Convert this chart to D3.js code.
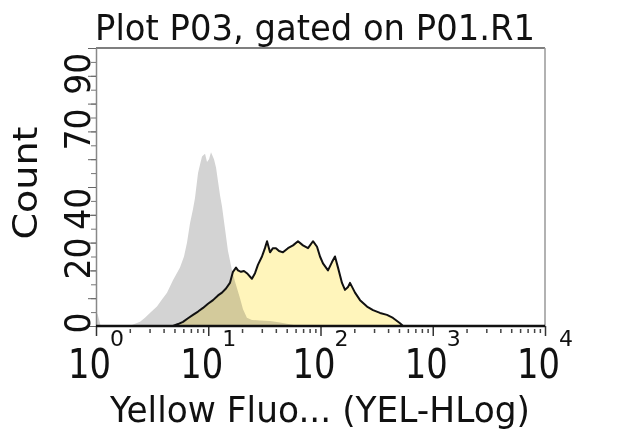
<!DOCTYPE html>
<html>
<head>
<meta charset="utf-8">
<script src="https://cdn.jsdelivr.net/npm/d3@7"></script>
<style>
  body { margin: 0; background: #fff; }
  text { font-family: "DejaVu Sans", Verdana, sans-serif; fill: #111; }
</style>
</head>
<body>
<div id="chart-area"></div>
<script>
/*
*    Flow cytometry histogram overlay (gray control vs yellow sample)
*/

const TITLE = "Plot P03, gated on P01.R1"
const X_LABEL = "Yellow Fluo... (YEL-HLog)"
const Y_LABEL = "Count"

const xDecades = [1, 10, 100, 1000, 10000]
const xExponents = ["0", "1", "2", "3", "4"]
const yTickLabels = [0, 20, 40, 70, 90]

// control histogram (gray)
const grayX = [1.0, 1.03, 1.07, 1.1, 2.0, 2.14, 2.47, 2.73, 3.09, 3.49, 3.87, 4.29, 4.85, 5.6,
  6.08, 6.47, 6.88, 7.31, 7.62, 8.11, 8.44, 8.8, 9.36, 9.75, 10.16, 10.58, 11.25, 11.73,
  12.22, 12.73, 13.26, 14.1, 14.99, 16.28, 17.3, 19.18, 20.4, 22.1, 24.5, 28.9, 35.5,
  43.6, 50.3, 59.3, 65.7]
const grayCount = [4, 4.5, 2, 0, 0, 0.5, 1.5, 3, 5, 7, 9.5, 12, 16.5, 21,
  25, 30, 37, 42, 46, 55, 58, 61, 62, 59, 60, 62.5, 60, 57,
  52, 47, 43, 35, 27, 20, 16, 10, 6, 3, 2.2, 2, 1.8,
  1.3, 0.8, 0.3, 0]

// sample histogram (yellow, outlined)
const yellowX = [4.85, 5.38, 5.96, 6.6, 7.31, 8.11, 8.98, 9.95, 11.03, 12.22,
  13.26, 14.39, 15.6, 16.6, 17.67, 18.4, 19.58, 20.8, 22.1, 24.5,
  26.1, 27.7, 30.1, 32.0, 33.4, 35.5, 37.7, 40.1, 42.7, 46.3,
  51.3, 56.9, 63.0, 69.8, 77.4, 85.7, 93.1, 99.0, 105.2, 116.6,
  126.6, 134.6, 143.2, 155.4, 165.3, 175.8, 183.2, 203, 225, 259.6,
  293.6, 339, 391, 442.5, 511, 543]
const yellowCount = [0, 0.7, 1.5, 2.8, 4, 5.2, 6.5, 8, 9.3, 11,
  12, 13.5, 15.5, 19.5, 21, 20, 19.5, 19.8, 19, 17,
  19, 22, 25, 28, 30.5, 26.5, 28, 28, 27, 26.5,
  28, 29, 30.5, 29, 28, 30.5, 28.5, 25, 22.5, 20,
  23, 25, 21, 15.5, 13, 14, 15.5, 12, 9.3, 7,
  5.7, 4.7, 4, 2.9, 1, 0]

const WIDTH = 640
const HEIGHT = 432
const PLOT = { LEFT: 96, RIGHT: 545, TOP: 48, BOTTOM: 326 }
// small vertical nudges the original software applies to y labels
const yLabelShift = [-3, -12, -6, -2, -2]

const svg = d3.select("#chart-area").append("svg")
  .attr("width", WIDTH)
  .attr("height", HEIGHT)

const x = d3.scaleLog()
  .domain([1, 10000])
  .range([PLOT.LEFT, PLOT.RIGHT])

const y = d3.scaleLinear()
  .domain([0, 100])
  .range([PLOT.BOTTOM, PLOT.TOP])

const gray = d3.zip(grayX, grayCount)
const yellow = d3.zip(yellowX, yellowCount)

const area = d3.area()
  .x(d => x(d[0]))
  .y0(y(0))
  .y1(d => y(d[1]))

const line = d3.line()
  .x(d => x(d[0]))
  .y(d => y(d[1]))

// histograms
svg.append("path")
  .attr("d", area(gray))
  .attr("fill", "#d3d3d3")

svg.append("path")
  .attr("d", area(yellow))
  .attr("fill", "#fff5bb")
  .style("mix-blend-mode", "multiply")

svg.append("path")
  .attr("d", line(yellow))
  .attr("fill", "none")
  .attr("stroke", "#111")
  .attr("stroke-width", 2)
  .attr("stroke-linejoin", "round")

// frame: top and right
svg.append("line")
  .attr("x1", PLOT.LEFT).attr("x2", PLOT.RIGHT)
  .attr("y1", PLOT.TOP).attr("y2", PLOT.TOP)
  .attr("stroke", "#555").attr("stroke-width", 1.5)
svg.append("line")
  .attr("x1", PLOT.RIGHT).attr("x2", PLOT.RIGHT)
  .attr("y1", PLOT.TOP).attr("y2", PLOT.BOTTOM)
  .attr("stroke", "#999").attr("stroke-width", 1.5)

// Y axis
const yMinor = svg.append("g")
  .attr("transform", `translate(${PLOT.LEFT}, 0)`)
  .call(d3.axisLeft(y).tickValues(d3.range(0, 101, 5)).tickSize(5).tickSizeOuter(0).tickFormat(""))
yMinor.select(".domain").attr("stroke", "#888").attr("stroke-width", 1.5)
yMinor.selectAll(".tick line").attr("stroke", "#777")

const yMajor = svg.append("g")
  .attr("transform", `translate(${PLOT.LEFT}, 0)`)
  .call(d3.axisLeft(y).tickValues(d3.range(0, 101, 10)).tickSize(8).tickSizeOuter(0).tickFormat(""))
yMajor.select(".domain").remove()
yMajor.selectAll(".tick line").attr("stroke", "#666")

svg.selectAll(".ylab")
  .data(yTickLabels)
  .enter().append("text")
  .attr("class", "ylab")
  .attr("transform", (d, i) => `translate(90, ${y(d) + yLabelShift[i]}) rotate(-90)`)
  .attr("text-anchor", "middle")
  .attr("font-size", "36px")
  .attr("textLength", d => String(d).length * 21)
  .attr("lengthAdjust", "spacingAndGlyphs")
  .text(d => d)

// X axis
const minorVals = []
xDecades.slice(0, -1).forEach(dec => {
  for (let k = 2; k <= 9; k++) minorVals.push(dec * k)
})

const xMinor = svg.append("g")
  .attr("transform", `translate(0, ${PLOT.BOTTOM + 3})`)
  .call(d3.axisBottom(x).tickValues(minorVals).tickSize(4).tickSizeOuter(0).tickFormat(""))
xMinor.select(".domain").remove()
xMinor.selectAll(".tick line").attr("stroke", "#444").attr("stroke-width", 1.5)

const xMajor = svg.append("g")
  .attr("transform", `translate(0, ${PLOT.BOTTOM})`)
  .call(d3.axisBottom(x).tickValues(xDecades).tickSize(10).tickSizeOuter(0).tickFormat(""))
xMajor.select(".domain").remove()
xMajor.selectAll(".tick line").attr("stroke", "#333").attr("stroke-width", 1.5)

svg.append("line")
  .attr("x1", PLOT.LEFT).attr("x2", PLOT.RIGHT)
  .attr("y1", PLOT.BOTTOM).attr("y2", PLOT.BOTTOM)
  .attr("stroke", "#111").attr("stroke-width", 2.5)

// decade labels: "10" with the exponent as a raised tspan in one text
const xLabs = svg.selectAll(".xlab")
  .data(xDecades)
  .enter().append("text")
  .attr("class", "xlab")
  .attr("x", d => x(d) - 28)
  .attr("y", 378)
  .attr("font-size", "40px")

xLabs.append("tspan")
  .attr("textLength", 43)
  .attr("lengthAdjust", "spacingAndGlyphs")
  .text("10")

xLabs.append("tspan")
  .attr("x", d => x(d) + 14)
  .attr("y", 346)
  .attr("font-size", "22px")
  .text((d, i) => xExponents[i])

// Title and axis labels
svg.append("text")
  .attr("x", 315)
  .attr("y", 40)
  .attr("text-anchor", "middle")
  .attr("font-size", "35px")
  .attr("textLength", 440)
  .attr("lengthAdjust", "spacingAndGlyphs")
  .text(TITLE)

svg.append("text")
  .attr("x", 320)
  .attr("y", 422)
  .attr("text-anchor", "middle")
  .attr("font-size", "36px")
  .attr("textLength", 420)
  .attr("lengthAdjust", "spacingAndGlyphs")
  .text(X_LABEL)

svg.append("text")
  .attr("transform", "translate(37, 183) rotate(-90)")
  .attr("text-anchor", "middle")
  .attr("font-size", "34px")
  .attr("textLength", 113)
  .attr("lengthAdjust", "spacingAndGlyphs")
  .text(Y_LABEL)
</script>
</body>
</html>
